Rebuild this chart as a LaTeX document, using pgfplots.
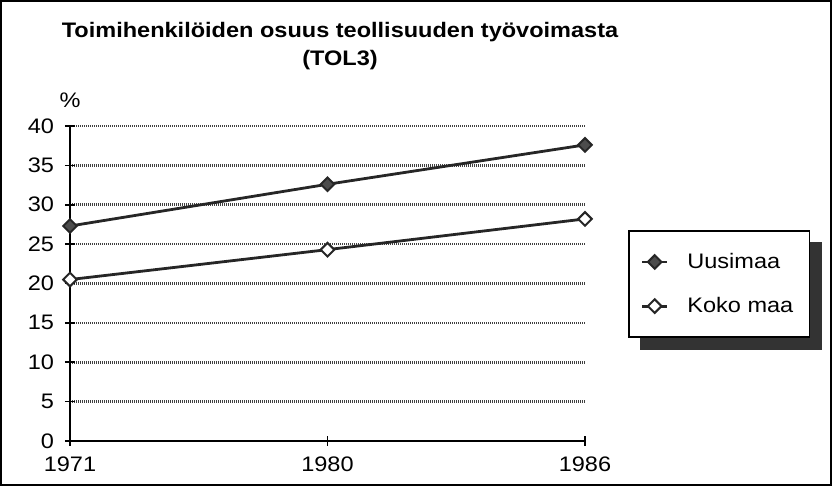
\documentclass[border=0pt]{standalone}
\usepackage{fontspec}
\setmainfont{Liberation Sans}[FakeStretch=1.12]
\usepackage{pgfplots}
\pgfplotsset{compat=1.18}
\pgfdeclarelayer{background}
\pgfsetlayers{background,main}

\begin{document}
\begin{tikzpicture}
\useasboundingbox (0,0) rectangle (416pt,243pt);
\draw[line width=1pt] (0.5pt,0.5pt) rectangle (415.5pt,242.5pt);
\begin{axis}[
  at={(35pt,22.5pt)}, anchor=south west,
  scale only axis,
  width=257.5pt, height=157.5pt,
  xmin=0, xmax=2, ymin=0, ymax=40,
  xtick={0,1,2}, xticklabels={1971,1980,1986},
  ytick={0,5,...,40},
  axis x line=bottom, axis y line=left,
  axis line style={-, line width=0.8pt},
  tick align=center, major tick length=5pt,
  tick style={black, line width=0.8pt},
  ymajorgrids,
  major grid style={black!75, line width=1.3pt, dash pattern=on 0.5pt off 0.5pt},
  tick label style={font=\fontsize{10.5}{12}\selectfont},
  yticklabel style={xshift=-2pt},
  xticklabel style={yshift=-2pt},
  /pgf/number format/assume math mode=true,
  clip=false,
  legend style={name=leg, at={(1.0835,0.6698)}, anchor=north west,
    draw=black, line width=0.8pt, fill=white,
    font=\fontsize{10.5}{12}\selectfont,
    inner xsep=6pt, inner ysep=9pt, row sep=9pt},
  legend cell align=left,
  legend image code/.code={%
    \draw[mark repeat=2,mark phase=2,#1] plot coordinates {(0cm,0cm)(0.22cm,0cm)(0.44cm,0cm)};
    \path (0.7cm,0cm);},
]
\addplot[line width=1.4pt, black!85, mark=square*, mark size=2.4pt, mark options={rotate=45, fill=black!70, line width=1pt}] coordinates {(0,27.3) (1,32.6) (2,37.6)};
\addlegendentry{Uusimaa}
\addplot[line width=1.4pt, black!85, mark=square*, mark size=2.4pt, mark options={rotate=45, fill=white, line width=1pt}] coordinates {(0,20.5) (1,24.3) (2,28.2)};
\addlegendentry{Koko maa}
\end{axis}
\begin{pgfonlayer}{background}
\fill[black!80] ([shift={(6pt,-6pt)}]leg.south west) rectangle ([shift={(6pt,-6pt)}]leg.north east);
\end{pgfonlayer}
\node[font=\bfseries\fontsize{10.5}{12}\selectfont] at (170pt,227pt) {Toimihenkilöiden osuus teollisuuden työvoimasta};
\node[font=\bfseries\fontsize{10.5}{12}\selectfont] at (170pt,213pt) {(TOL3)};
\node[font=\fontsize{10.5}{12}\selectfont] at (35pt,193pt) {\%};
\end{tikzpicture}
\end{document}
